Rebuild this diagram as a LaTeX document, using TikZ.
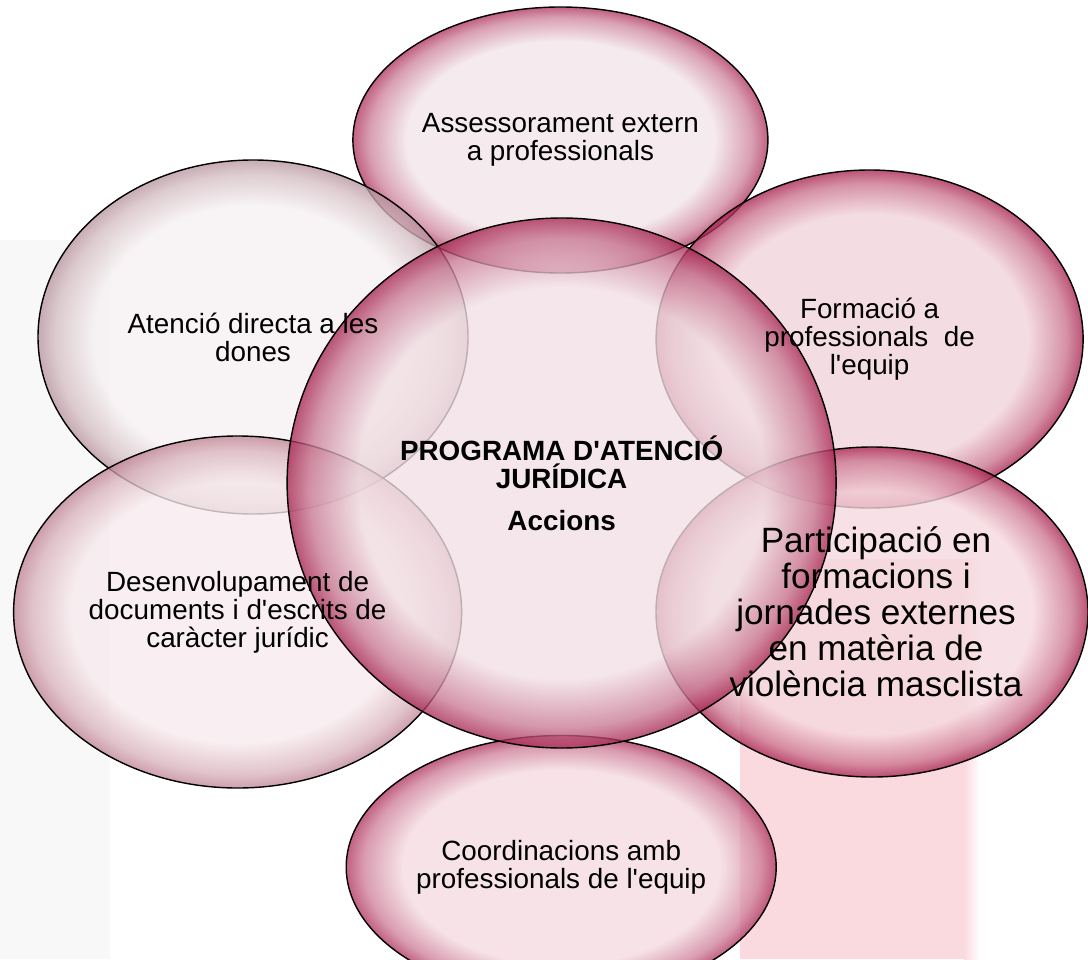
\documentclass[tikz,border=0pt]{standalone}
\usepackage{fontspec}
\setmainfont{Liberation Sans}
\usetikzlibrary{shapes.geometric}

\definecolor{bandpink}{HTML}{FADADF}
\definecolor{bandgrey}{HTML}{F9F8F8}
\colorlet{bubin}{white}
\colorlet{bubmid}{pink}
\colorlet{bubout}{red}
\pgfdeclareradialshading[bubin,bubmid,bubout]{bubble}{\pgfpoint{0bp}{0bp}}{color(0bp)=(bubin); color(18.5bp)=(bubin); color(23bp)=(bubmid); color(25bp)=(bubout); color(50bp)=(bubout)}
\newcommand{\ap}{\textquotesingle}

\begin{document}
\begin{tikzpicture}[
    bubble/.style 2 args={ellipse, draw=black, line width=1pt, inner sep=0pt,
      /utils/exec={\definecolor{bubin}{HTML}{#1}\definecolor{bubout}{HTML}{#2}\colorlet{bubmid}{bubout!55!bubin}},
      shade, shading=bubble, fill opacity=0.78},
    words/.style={align=center, inner sep=0pt, font=\fontsize{19.8pt}{20pt}\selectfont}
  ]
        \useasboundingbox (0, 0) rectangle (27.2, 23.975);

        % Faded background
        \fill[bandgrey] (0, 0) rectangle (2.75, 17.975);
        \fill[bandpink] (18.5, 0) rectangle (24.1, 10);
        \shade[left color=bandpink, right color=white] (24.1, 0) rectangle (24.5, 10);

        % Nodes (actions)
        \node[bubble={F2E6EA}{B03560}, minimum width=10.375cm, minimum height=6.65cm] (Ass) at (14.01, 20.475) {};
        \node[bubble={F6F1F2}{B8959F}, minimum width=10.75cm, minimum height=8.85cm] (Aten) at (6.325, 15.55) {};
        \node[bubble={F1D3DA}{A92450}, minimum width=10.675cm, minimum height=8.45cm] (Form) at (21.74, 15.5) {};
        \node[bubble={F7EBEE}{C08595}, minimum width=11.2cm, minimum height=8.8cm] (Desen) at (5.94, 8.675) {};
        \node[bubble={F6D9DF}{A92450}, minimum width=10.8cm, minimum height=8.25cm] (Part) at (21.8, 8.675) {};
        \node[bubble={F3DAE0}{B03560}, minimum width=10.75cm, minimum height=6.575cm] (Coord) at (14.03, 2.3) {};

        % Central node
        \node[bubble={F1DFE4}{A82853}, minimum width=13.725cm, minimum height=13.25cm] (Prog) at (14.04, 11.9) {};

        % Texts
        \node[words] (AssText) at (Ass) {Assessorament extern\\a professionals};
        \node[words] (AtenText) at (Aten) {Atenció directa a les\\dones};
        \node[words] (FormText) at (Form) {Formació a\\professionals\ \ de\\l\ap equip};
        \node[words] (DesenText) at (Desen) {Desenvolupament de\\documents i d\ap escrits de\\caràcter jurídic};
        \node[words, font=\fontsize{25pt}{25.6pt}\selectfont] (PartText) at ([xshift=0.1cm]Part.center)
            {Participació en\\formacions i\\jornades externes\\en matèria de\\violència masclista};
        \node[words] (CoordText) at (Coord) {Coordinacions amb\\professionals de l\ap equip};
        \node[words, font=\fontsize{19.8pt}{20pt}\selectfont\bfseries] (ProgText) at (Prog)
            {PROGRAMA D\ap ATENCIÓ\\JURÍDICA\\[10pt]Accions};

    \end{tikzpicture}
\end{document}
